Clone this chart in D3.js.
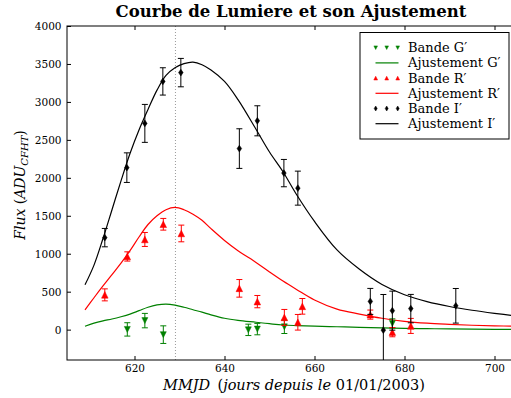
<!DOCTYPE html>
<html>
<head>
<meta charset="utf-8">
<script src="https://cdn.jsdelivr.net/npm/d3@7"></script>
<style>
  html, body { margin: 0; padding: 0; background: #fff; }
  svg { display: block; }
</style>
</head>
<body>
<svg id="chart" width="511" height="398"></svg>
<script>
// Observations per band: MMJD, flux and flux uncertainty
const gDays = [618.4, 622.3, 626.4, 645.3, 647.3, 653.3, 677.3];
const gFlux = [3, 119, -66, -3, 7, 37, 82];
const gErr  = [88, 95, 116, 75, 75, 88, 60];

const rDays = [613.4, 618.4, 622.3, 626.4, 630.4, 643.3, 647.3, 653.3, 656.3, 657.3, 672.4, 677.3, 681.4];
const rFlux = [458, 964, 1188, 1388, 1267, 544, 369, 161, 97, 307, 198, -33, 49];
const rErr  = [79, 61, 92, 77, 110, 116, 81, 105, 103, 103, 60, 61, 99];

const iDays = [613.4, 618.3, 622.3, 626.3, 630.3, 643.3, 647.3, 653.2, 656.3, 672.4, 675.3, 677.3, 681.4, 691.4];
const iFlux = [1212, 2134, 2717, 3270, 3386, 2385, 2751, 2062, 1864, 372, -7, 250, 277, 314];
const iErr  = [121, 195, 250, 180, 187, 261, 198, 180, 224, 171, 470, 257, 187, 228];

// Fitted light curves, sampled on a common MMJD grid
const fitDays = [609, 611, 613, 615, 617, 619, 621, 623, 625, 627, 629, 631, 633, 635, 637, 640, 643, 647, 650, 653, 656, 660, 665, 670, 675, 680, 685, 690, 695, 700, 705];
const fitG = [45, 85, 115, 140, 170, 205, 250, 295, 325, 336, 323, 295, 262, 230, 195, 150, 122, 97, 78, 61, 53, 46, 38, 30, 23, 17, 13, 9, 6, 4, 3];
const fitR = [260, 420, 575, 725, 875, 1040, 1220, 1385, 1500, 1580, 1610, 1580, 1520, 1440, 1330, 1175, 1040, 885, 760, 640, 530, 390, 270, 205, 150, 110, 85, 70, 58, 50, 45];
const fitI = [590, 850, 1200, 1580, 1960, 2320, 2630, 2900, 3155, 3350, 3450, 3505, 3525, 3490, 3420, 3270, 3030, 2640, 2340, 2080, 1780, 1425, 1050, 795, 595, 460, 370, 305, 255, 215, 180];

// Date of maximum marker
const maxDay = 629.1;

const xTicks = [620, 640, 660, 680, 700];
const yTicks = [0, 500, 1000, 1500, 2000, 2500, 3000, 3500, 4000];

const titleText = "Courbe de Lumiere et son Ajustement";
const legendLabels = ["Bande G\u2032", "Ajustement G\u2032", "Bande R\u2032", "Ajustement R\u2032", "Bande I\u2032", "Ajustement I\u2032"];

const colG = "#008000", colR = "#ff0000", colI = "#000000";

const svg = d3.select("#chart");
const M = { left: 67, top: 26, right: 517, bottom: 360 };
const x = d3.scaleLinear().domain([605, 705]).range([M.left, M.right]);
const y = d3.scaleLinear().domain([-400, 4000]).range([M.bottom, M.top]);
const serif = "'DejaVu Serif', serif";

svg.append("defs").append("clipPath").attr("id", "plotclip")
  .append("rect").attr("x", M.left).attr("y", M.top)
  .attr("width", M.right - M.left).attr("height", M.bottom - M.top);

const plot = svg.append("g").attr("clip-path", "url(#plotclip)");

// vertical dotted line at maximum
plot.append("line")
  .attr("x1", x(maxDay)).attr("x2", x(maxDay))
  .attr("y1", M.top).attr("y2", M.bottom)
  .attr("stroke", "#9a9a9a").attr("stroke-width", 1)
  .attr("stroke-dasharray", "1,2");

// fitted curves
const line = d3.line().x(d => x(d[0])).y(d => y(d[1])).curve(d3.curveCatmullRom.alpha(0.5));
[[fitG, colG], [fitR, colR], [fitI, colI]].forEach(([vals, c]) => {
  plot.append("path")
    .attr("d", line(fitDays.map((d, i) => [d, vals[i]])))
    .attr("fill", "none").attr("stroke", c).attr("stroke-width", 1.2);
});

// marker shapes (bounding-box centred)
function triUp(s) { return `M0,${-s}L${s},${s}L${-s},${s}Z`; }
function triDown(s) { return `M0,${s}L${s},${-s}L${-s},${-s}Z`; }
function thinDiamond(w, h) { return `M0,${-h}L${w},0L0,${h}L${-w},0Z`; }

function drawSeries(days, flux, err, color, shape) {
  const g = plot.append("g");
  days.forEach((d, i) => {
    const cx = x(d), y0 = y(flux[i] - err[i]), y1 = y(flux[i] + err[i]);
    g.append("line").attr("x1", cx).attr("x2", cx).attr("y1", y0).attr("y2", y1)
      .attr("stroke", color).attr("stroke-width", 1);
    [y0, y1].forEach(yy => g.append("line")
      .attr("x1", cx - 3).attr("x2", cx + 3).attr("y1", yy).attr("y2", yy)
      .attr("stroke", color).attr("stroke-width", 1));
    g.append("path").attr("d", shape)
      .attr("transform", `translate(${cx},${y(flux[i])})`)
      .attr("fill", color).attr("stroke", color).attr("stroke-width", 0.5);
  });
}
drawSeries(gDays, gFlux, gErr, colG, triDown(3));
drawSeries(rDays, rFlux, rErr, colR, triUp(3.3));
drawSeries(iDays, iFlux, iErr, colI, thinDiamond(2.3, 3.4));

// frame
svg.append("rect").attr("x", M.left).attr("y", M.top)
  .attr("width", M.right - M.left).attr("height", M.bottom - M.top)
  .attr("fill", "none").attr("stroke", "#000").attr("stroke-width", 1);

// axes with inward ticks
const fmt = d3.format("d");
const xAxisB = d3.axisBottom(x).tickValues(xTicks).tickFormat(fmt).tickSizeInner(-4).tickSizeOuter(0).tickPadding(4.5);
const xAxisT = d3.axisTop(x).tickValues(xTicks).tickSizeInner(-4).tickSizeOuter(0).tickFormat("");
const yAxisL = d3.axisLeft(y).tickValues(yTicks).tickFormat(fmt).tickSizeInner(-4).tickSizeOuter(0).tickPadding(5.5);
const yAxisR = d3.axisRight(y).tickValues(yTicks).tickSizeInner(-4).tickSizeOuter(0).tickFormat("");

function styleAxis(g) {
  g.select(".domain").remove();
  g.selectAll("text").attr("font-family", serif).attr("font-size", 10.5).attr("fill", "#000");
  g.selectAll("line").attr("stroke", "#000");
}
svg.append("g").attr("transform", `translate(0,${M.bottom})`).call(xAxisB).call(styleAxis);
svg.append("g").attr("transform", `translate(0,${M.top})`).call(xAxisT).call(styleAxis);
svg.append("g").attr("transform", `translate(${M.left},0)`).call(yAxisL).call(styleAxis);
svg.append("g").attr("transform", `translate(${M.right},0)`).call(yAxisR).call(styleAxis);

// title
svg.append("text").attr("x", 291).attr("y", 16.5)
  .attr("text-anchor", "middle").attr("font-family", serif)
  .attr("font-weight", "bold").attr("font-size", 16.5).text(titleText);

// x axis label
const xl = svg.append("text").attr("x", 294).attr("y", 389.5)
  .attr("text-anchor", "middle").attr("font-family", serif).attr("font-size", 14.5);
xl.append("tspan").attr("font-style", "italic").text("MMJD");
xl.append("tspan").text("\u2002(");
xl.append("tspan").attr("font-style", "italic").text("jours depuis le");
xl.append("tspan").text(" 01/01/2003)");

// y axis label
const yl = svg.append("text").attr("transform", "translate(25,185) rotate(-90)")
  .attr("text-anchor", "middle").attr("font-family", serif).attr("font-size", 14);
yl.append("tspan").attr("font-style", "italic").text("Flux");
yl.append("tspan").text(" (");
yl.append("tspan").attr("font-style", "italic").text("ADU");
yl.append("tspan").attr("font-style", "italic").attr("font-size", 10).attr("dy", 3).text("CFHT");
yl.append("tspan").attr("dy", -3).text(")");

// legend
const lg = svg.append("g");
lg.append("rect").attr("x", 360).attr("y", 32.5).attr("width", 149).attr("height", 106.5)
  .attr("fill", "#fff").attr("stroke", "#000").attr("stroke-width", 1);
const rowY = [47.7, 62.9, 78.1, 93.3, 108.5, 123.7];
const legendItems = [
  { type: "pts", color: colG, shape: triDown(1.8) },
  { type: "line", color: colG },
  { type: "pts", color: colR, shape: triUp(1.9) },
  { type: "line", color: colR },
  { type: "pts", color: colI, shape: thinDiamond(1.5, 2.5) },
  { type: "line", color: colI }
];
legendItems.forEach((it, i) => {
  const yy = rowY[i];
  if (it.type === "pts") {
    [375.7, 386.7, 397.7].forEach(px => lg.append("path").attr("d", it.shape)
      .attr("transform", `translate(${px},${yy})`).attr("fill", it.color)
      .attr("stroke", it.color).attr("stroke-width", 0.5));
  } else {
    lg.append("line").attr("x1", 375.5).attr("x2", 398.5).attr("y1", yy).attr("y2", yy)
      .attr("stroke", it.color).attr("stroke-width", 1.2);
  }
  lg.append("text").attr("x", 408).attr("y", yy + 4.5)
    .attr("font-family", serif).attr("font-size", 13).text(legendLabels[i]);
});
</script>
</body>
</html>
